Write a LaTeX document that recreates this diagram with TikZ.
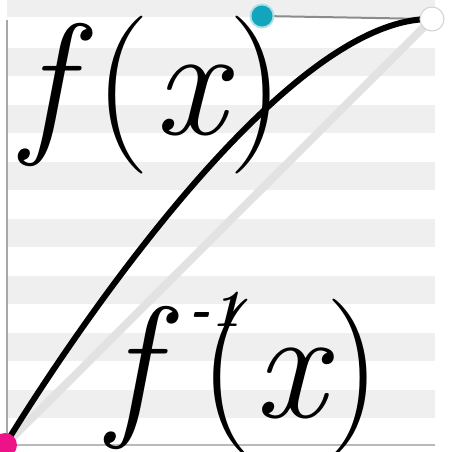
\documentclass[tikz,border=0pt]{standalone}
\definecolor{stripe}{HTML}{EFEFEF}
\definecolor{axisgray}{HTML}{A8A8A8}
\definecolor{diag}{HTML}{E2E2E2}
\definecolor{dotcyan}{HTML}{13A5BC}
\definecolor{dotmag}{HTML}{EE1289}
\tikzset{
  big/.style={font=\fontsize{158}{158}\selectfont, inner sep=0pt, anchor=base},
  sup/.style={font=\fontsize{52}{52}\selectfont\itshape\bfseries, inner sep=0pt, anchor=center},
  handle/.style={circle, inner sep=0pt, minimum size=#1}
}
\begin{document}
\begin{tikzpicture}[x=1pt,y=-1pt]
\useasboundingbox (0,0) rectangle (448,452);
\clip (0,0) rectangle (448,452);
\fill[white] (0,0) rectangle (448,452);
% stripes
\fill[stripe] (7,0) rectangle (435,17);
\foreach \y in {48,105,162,219,276,333,390}
  \fill[stripe] (7,\y) rectangle (435,\y+28);
% axes
\draw[axisgray, line width=1.5pt] (7,20) -- (7,445);
\draw[axisgray!80, line width=1.2pt] (7,445) -- (435,445);
% points
\coordinate (p0) at (5,445);
\coordinate (p3) at (432,19);
\coordinate (c2) at (262,16);
% diagonal
\draw[diag, line width=8pt] (p0) -- (p3);
% control handle line
\draw[gray!90, line width=2pt] (c2) -- (p3);
% curve
\draw[black, line width=6pt] (p0) .. controls (p0) and (c2) .. (p3);
% handles
\node[handle=25pt, fill=dotcyan!35] (h2) at (c2) {};
\node[handle=21pt, fill=dotcyan] (h2i) at (c2) {};
\node[handle=24pt, fill=white, draw=gray!35, line width=1pt] (h3) at (p3) {};
\node[handle=24pt, fill=dotmag] (h0) at (p0) {};
% labels
\node[big] (f1) at (46,134) {\itshape f};
\node[big] (l1) at (122,134) {(};
\node[big] (x1) at (190,134) {\itshape x};
\node[big] (r1) at (256,134) {)};
\node[big] (f2) at (132,417) {\itshape f};
\node[big] (l2) at (227,417) {(};
\node[big] (x2) at (290,417) {\itshape x};
\node[big] (r2) at (353,417) {)};
\node[sup] (s2) at (216,309) {-1};
\end{tikzpicture}
\end{document}
